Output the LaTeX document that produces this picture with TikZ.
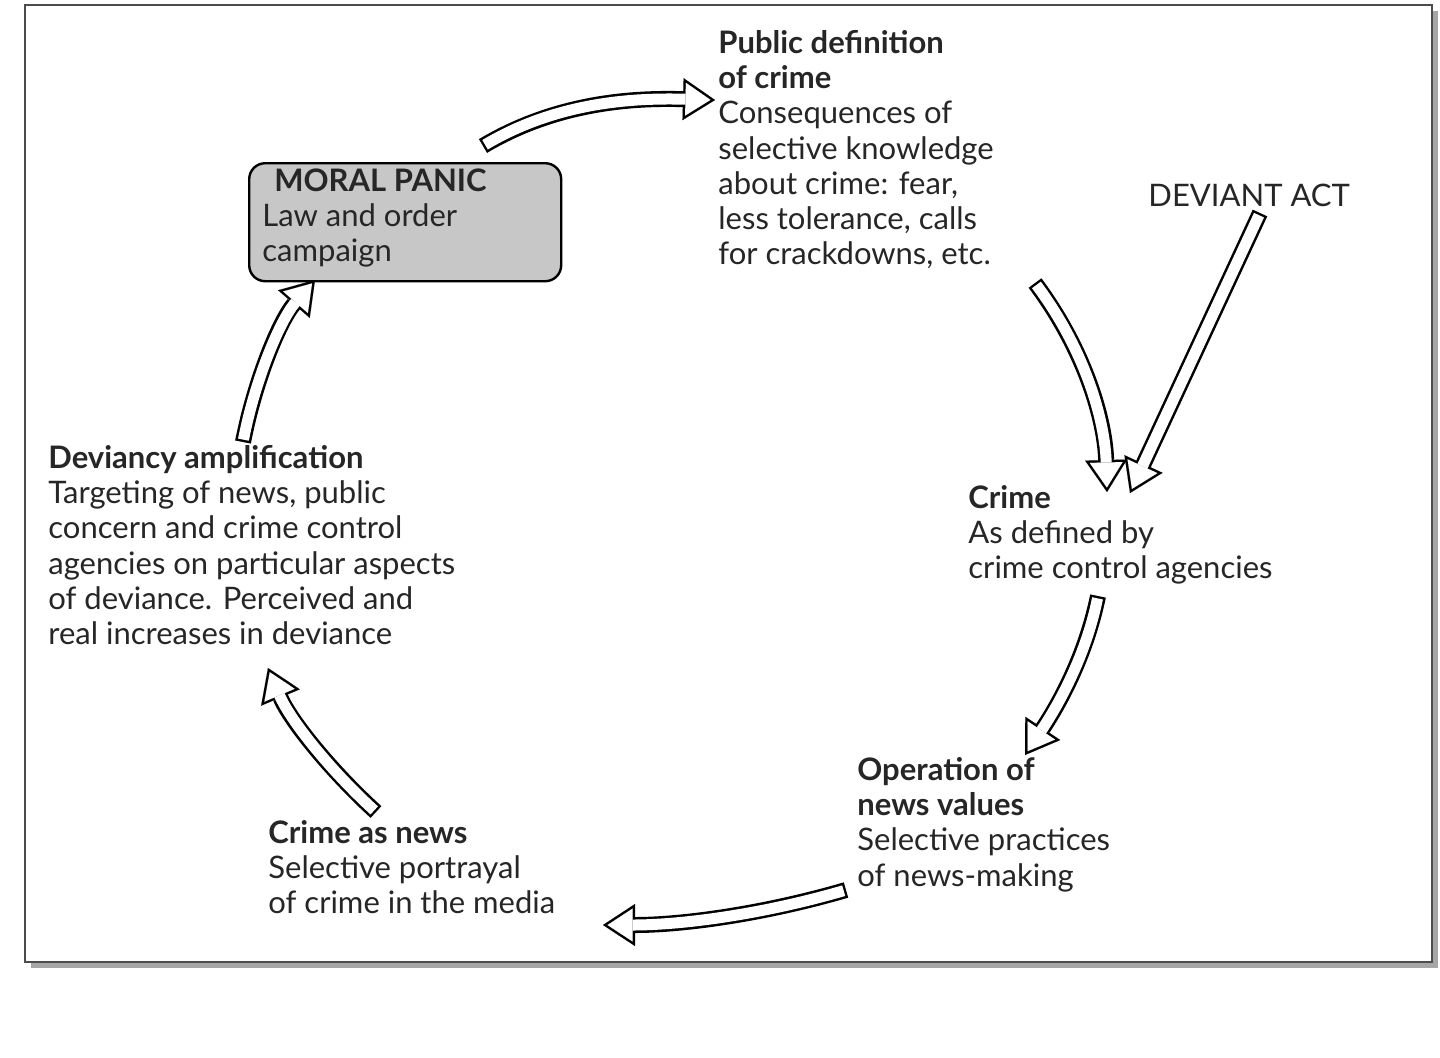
\documentclass[tikz,border=0pt]{standalone}
\usepackage{fontspec}
\setmainfont{Lato}
\usetikzlibrary{arrows.meta}
\begin{document}
\begin{tikzpicture}[x=0.5pt,y=-0.5pt,
  txt/.style={anchor=north west,inner sep=0pt,align=left,font=\fontsize{15.5}{17.6}\selectfont,text=black!85},
  hol/.style={line width=8pt,-{Triangle[length=16pt,width=21pt,line width=0.01pt]}},
  holin/.style={line width=5.5pt,white,-{Triangle[length=12.5pt,width=16.4pt,line width=0.01pt]},shorten >=2.27pt,shorten <=1.2pt}]
\useasboundingbox (0,0) rectangle (1440,1057);
\fill[white] (0,0) rectangle (1440,1057);
\fill[black!35] (31,11) rectangle (1438,968);
\draw[line width=1.2pt,black!70,fill=white] (25,5) rectangle (1432,962);
\newcommand\harrow[1]{\draw[hol] #1; \draw[holin] #1;}
% box
\node[draw,line width=1.2pt,rounded corners=8pt,fill=black!22,minimum width=156pt,minimum height=59pt,anchor=north west] (mp) at (248,162) {};
\node[txt] (mpt) at (262,168) {\hspace*{6pt}\textbf{MORAL PANIC}\\Law and order\\campaign};
\node[txt] (pd) at (718,30) {\textbf{Public definition}\\\textbf{of crime}\\Consequences of\\selective knowledge\\about crime: fear,\\less tolerance, calls\\for crackdowns, etc.};
\node[txt,anchor=west] (da) at (1148,195) {DEVIANT ACT};
\node[txt] (cr) at (968,485) {\textbf{Crime}\\As defined by\\crime control agencies};
\node[txt] (op) at (857,757) {\textbf{Operation of}\\\textbf{news values}\\Selective practices\\of news-making};
\node[txt] (cn) at (268,820) {\textbf{Crime as news}\\Selective portrayal\\of crime in the media};
\node[txt] (dv) at (48,445) {\textbf{Deviancy amplification}\\Targeting of news, public\\concern and crime control\\agencies on particular aspects\\of deviance. Perceived and\\real increases in deviance};
\harrow{(483,146) .. controls (560,100) and (640,98) .. (715,100)}
\harrow{(1035,283) .. controls (1085,350) and (1105,420) .. (1107,492)}
\harrow{(1260,213) -- (1130,493)}
\harrow{(1098,596) .. controls (1085,660) and (1055,710) .. (1025,755)}
\harrow{(846,890) .. controls (760,915) and (680,925) .. (603,925)}
\harrow{(376,812) .. controls (330,770) and (290,720) .. (268,668)}
\harrow{(243,442) .. controls (255,380) and (280,320) .. (315,280)}
\end{tikzpicture}
\end{document}
